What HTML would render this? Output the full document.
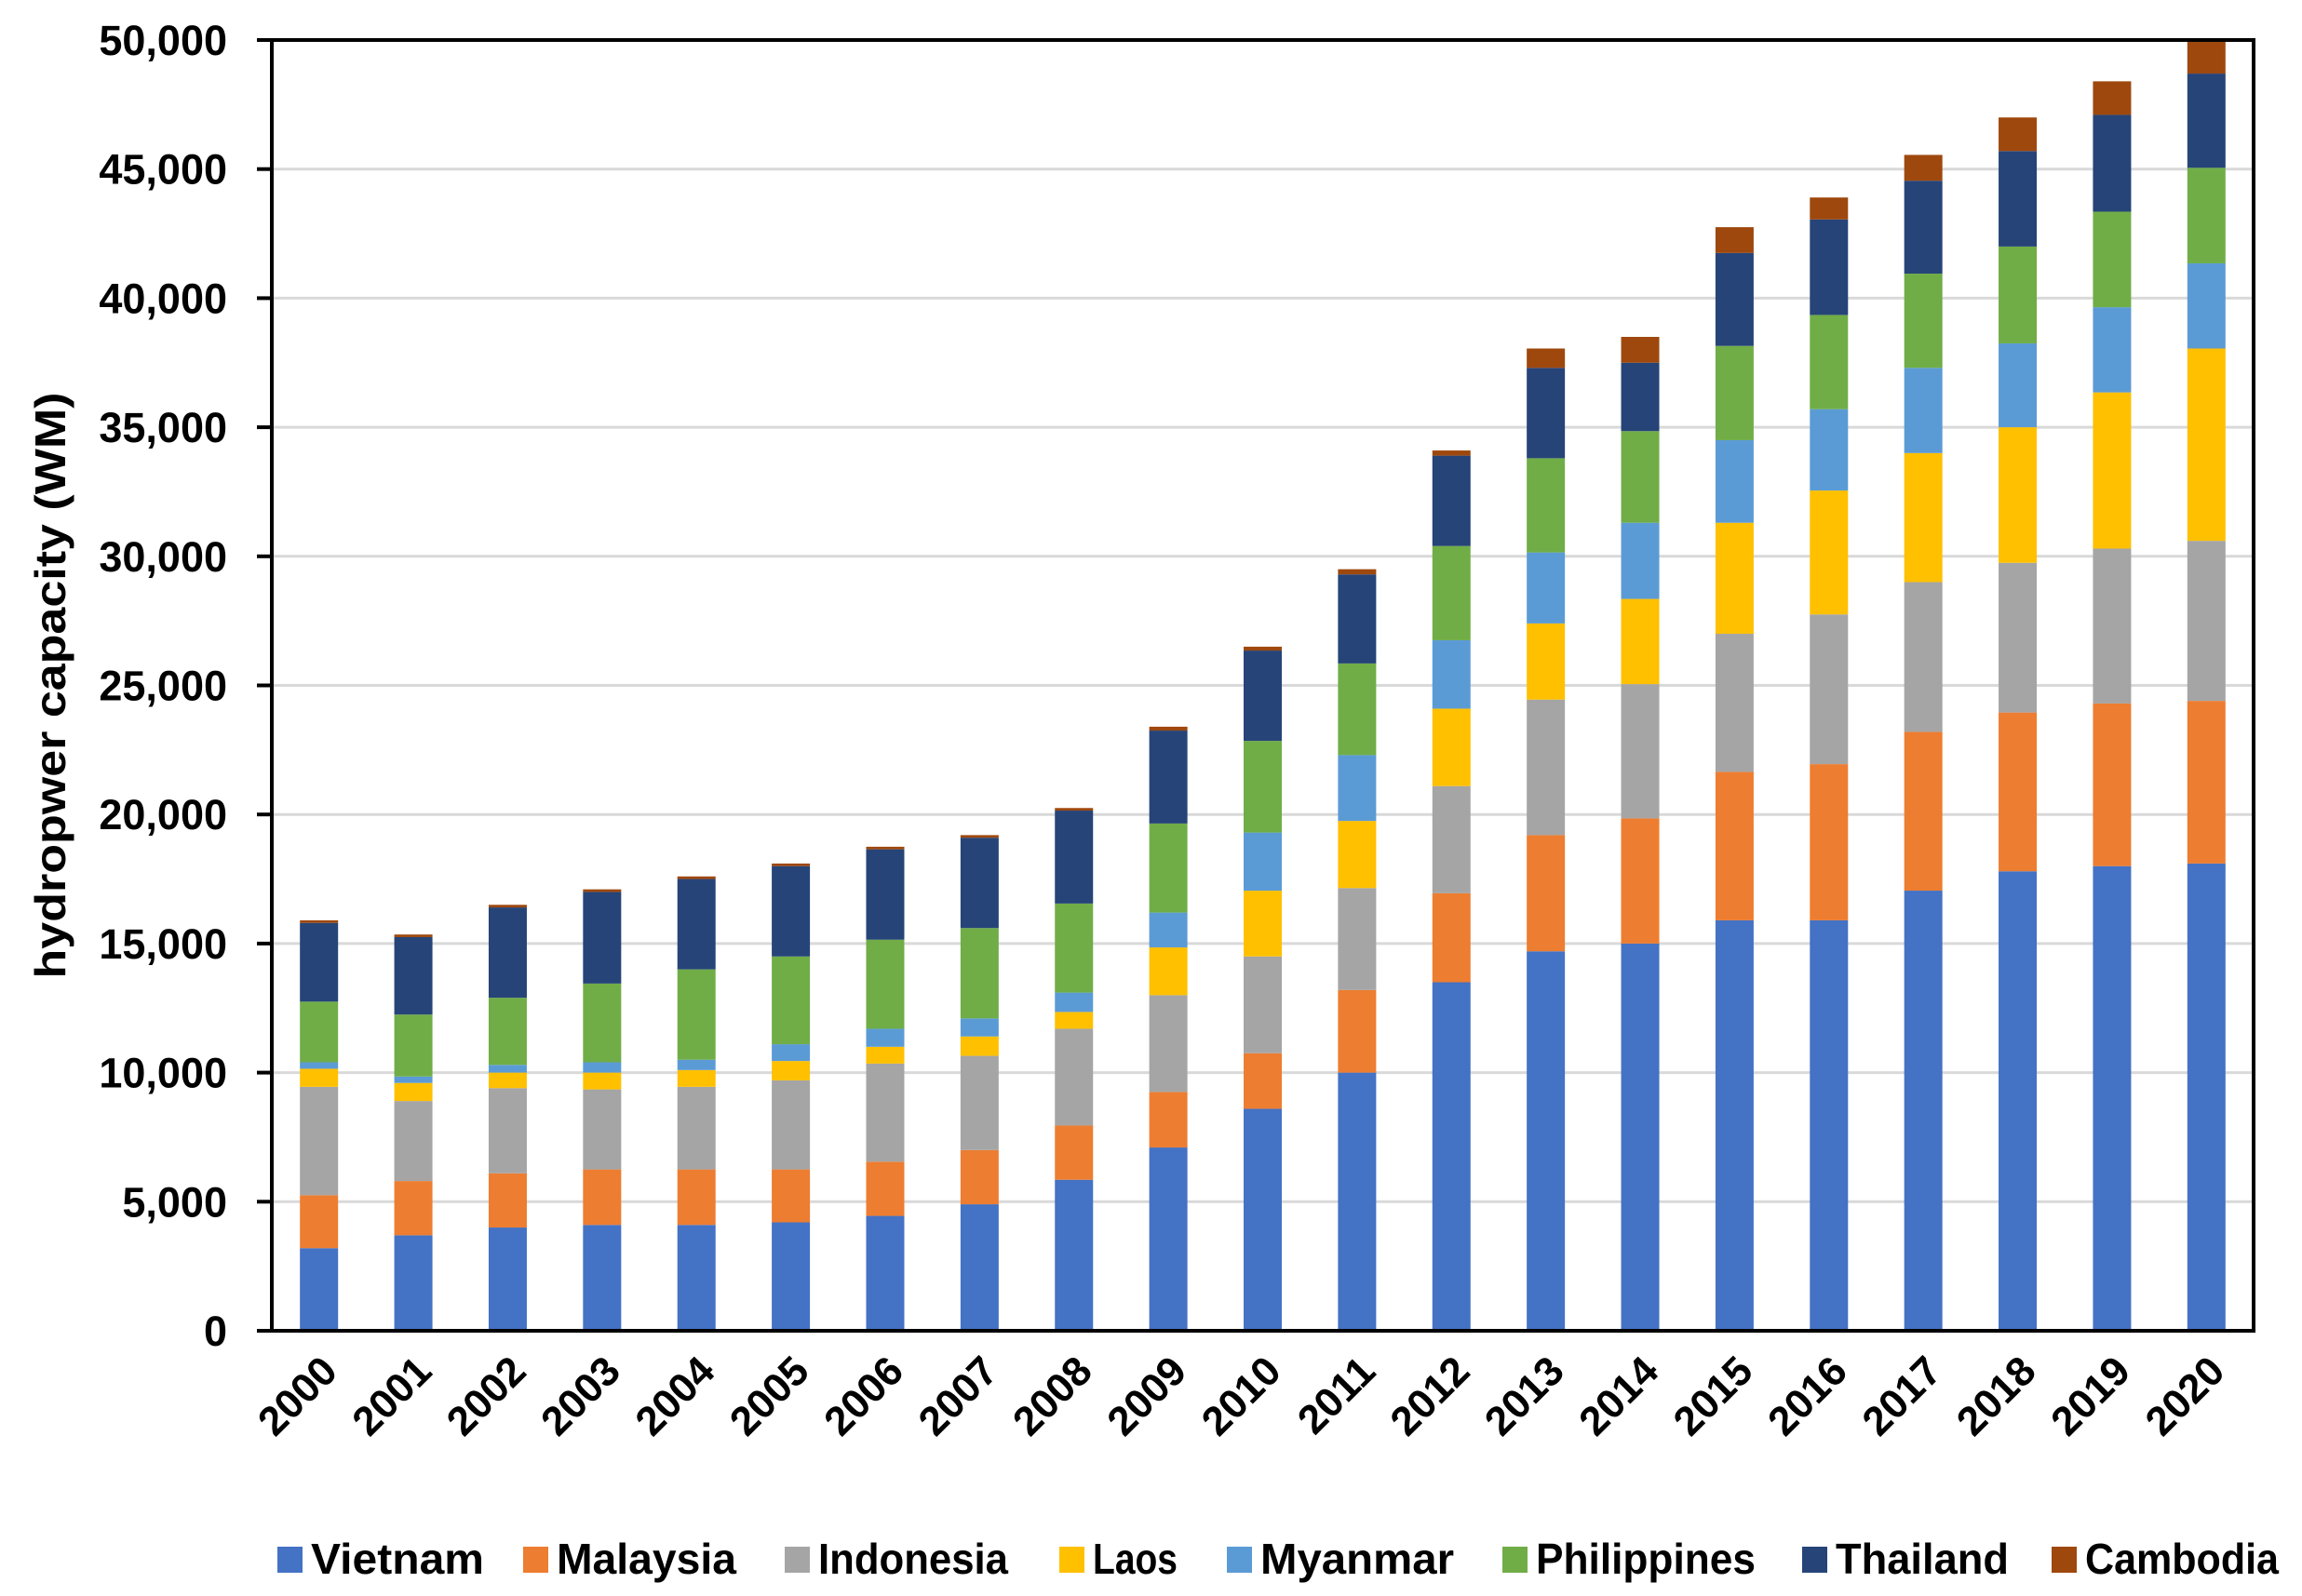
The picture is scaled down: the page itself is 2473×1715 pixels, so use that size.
<!DOCTYPE html>
<html><head><meta charset="utf-8"><style>
html,body{margin:0;padding:0;background:#fff;}
svg{display:block;font-family:"Liberation Sans",sans-serif;font-weight:bold;}
</style></head><body>
<svg id="chart" width="2473" height="1715" viewBox="0 0 2473 1715" xmlns="http://www.w3.org/2000/svg"></svg>
<script>
const years=["2000","2001","2002","2003","2004","2005","2006","2007","2008","2009","2010","2011","2012","2013","2014","2015","2016","2017","2018","2019","2020"];
const seriesNames=["Vietnam","Malaysia","Indonesia","Laos","Myanmar","Philippines","Thailand","Cambodia"];
const vietnam=[3200,3700,4000,4100,4100,4200,4450,4900,5850,7100,8600,10000,13500,14700,15000,15900,15900,17050,17800,18000,18100];
const malaysia=[2050,2100,2100,2150,2150,2050,2100,2100,2100,2150,2150,3200,3450,4500,4850,5750,6050,6150,6150,6300,6300];
const indonesia=[4200,3100,3300,3100,3200,3450,3800,3650,3750,3750,3750,3950,4150,5250,5200,5350,5800,5800,5800,6000,6200];
const laos=[700,700,600,650,650,750,650,750,650,1850,2550,2600,3000,2950,3300,4300,4800,5000,5250,6050,7450];
const myanmar=[250,250,300,400,400,650,700,700,750,1350,2250,2550,2650,2750,2950,3200,3150,3300,3250,3300,3300];
const philippines=[2350,2400,2600,3050,3500,3400,3450,3500,3450,3450,3550,3550,3650,3650,3550,3650,3650,3650,3750,3700,3700];
const thailand=[3050,3000,3500,3550,3500,3500,3500,3500,3600,3600,3500,3450,3500,3500,2650,3600,3700,3600,3700,3750,3650];
const cambodia=[100,100,100,100,100,100,100,100,100,150,150,200,200,750,1000,1000,850,1000,1300,1300,1300];
const yTicks=[0,5000,10000,15000,20000,25000,30000,35000,40000,45000,50000];
const yTickLabels=["0","5,000","10,000","15,000","20,000","25,000","30,000","35,000","40,000","45,000","50,000"];
const colors=["#4472C4","#ED7D31","#A5A5A5","#FFC000","#5B9BD5","#70AD47","#264478","#9E480E"];
const allSeries=[vietnam,malaysia,indonesia,laos,myanmar,philippines,thailand,cambodia];

const NS="http://www.w3.org/2000/svg";
const svg=document.getElementById('chart');
const L=292,R=2421,T=43,B=1430,yMax=50000;
const slot=(R-L)/years.length, bw=41;
function y(v){return B-(v/yMax)*(B-T);}
function xc(i){return L+slot*(i+0.5);}
function mk(tag,attrs,parent){const e=document.createElementNS(NS,tag);for(const k in attrs)e.setAttribute(k,attrs[k]);(parent||svg).appendChild(e);return e;}

yTicks.forEach((v,i)=>{
  if(v>0&&v<yMax){const g=mk('line',{x1:L,x2:R,y1:y(v),y2:y(v),stroke:'#d9d9d9','stroke-width':3});
  
  }
  const tk=mk('line',{x1:L-16,x2:L,y1:y(v),y2:y(v),stroke:'#000','stroke-width':4});
  
  
  const t=mk('text',{x:L-48,y:y(v)+16,'text-anchor':'end','font-size':45,fill:'#000'});
  t.textContent=yTickLabels[i];
  
  
});

years.forEach((yr,i)=>{
  let cum=0;
  allSeries.forEach((s,k)=>{
    const v=s[i];
    const r=mk('rect',{x:xc(i)-bw/2,y:y(cum+v),width:bw,height:y(cum)-y(cum+v),fill:colors[k]});
    
    
    cum+=v;
  });
  const t=mk('text',{x:0,y:0,'text-anchor':'end','font-size':44,fill:'#000',transform:`translate(${xc(i)+22},${B+46}) rotate(-45)`});
  t.textContent=yr;
  
  
});

const box=mk('rect',{x:L,y:T,width:R-L,height:B-T,fill:'none',stroke:'#000','stroke-width':4});



const yt=mk('text',{x:0,y:0,'text-anchor':'middle','font-size':46,textLength:630,lengthAdjust:'spacingAndGlyphs',fill:'#000',transform:`translate(70,${(T+B)/2}) rotate(-90)`});
yt.textContent="hydropwer capacity (WM)";



const legX=[298,562,843,1138,1318,1614,1936,2204];
const legW=[186,193,204,91,208,236,186,208];
seriesNames.forEach((n,k)=>{
  const g=mk('g',{});
  
  
  mk('rect',{x:legX[k],y:1662,width:27,height:28,fill:colors[k]},g);
  const t=mk('text',{x:legX[k]+36,y:1691,'font-size':46,textLength:legW[k],lengthAdjust:'spacingAndGlyphs',fill:'#000'},g);
  t.textContent=n;
});
</script>
</body></html>
